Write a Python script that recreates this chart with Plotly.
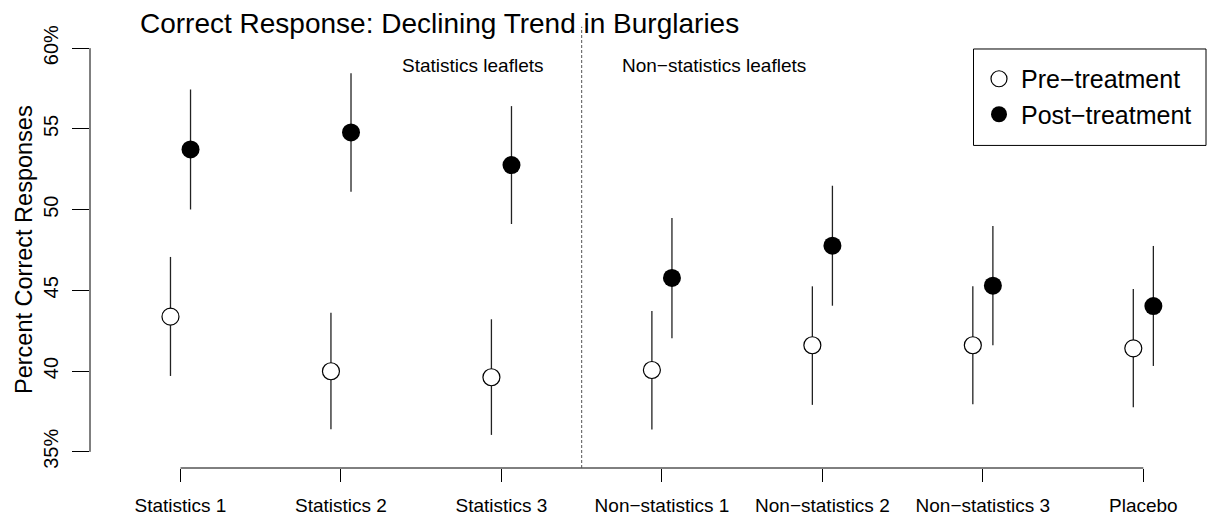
import plotly.graph_objects as go

# Leaflet groups shown along the x axis
groups = ["Statistics 1", "Statistics 2", "Statistics 3",
          "Non\u2212statistics 1", "Non\u2212statistics 2", "Non\u2212statistics 3", "Placebo"]

# Percent correct responses with interval bounds
pre_mean = [43.37, 39.99, 39.62, 40.07, 41.60, 41.60, 41.41]
pre_low = [39.70, 36.40, 36.05, 36.38, 37.91, 37.95, 37.76]
pre_high = [47.07, 43.62, 43.21, 43.73, 45.25, 45.25, 45.09]

post_mean = [53.73, 54.78, 52.76, 45.77, 47.77, 45.29, 44.03]
post_low = [50.01, 51.11, 49.11, 42.03, 44.05, 41.60, 40.32]
post_high = [57.44, 58.45, 56.41, 49.48, 51.48, 48.99, 47.75]

y_ticks = [35, 40, 45, 50, 55, 60]
y_tick_labels = ["35%", "40", "45", "50", "55", "60%"]

FONT = "Liberation Sans, Arial, Helvetica, sans-serif"
DODGE = 0.0625
pos = list(range(1, len(groups) + 1))

# plot area in pixels (used to place paper-referenced items)
L, R, T, B = 90, 1208, 32, 468.3


def px_x(px):
    return (px - L) / (R - L)


def px_y(py):
    return (B - py) / (B - T)


def err(mean, low, high, color):
    return dict(type="data", symmetric=False,
                array=[h - m for m, h in zip(mean, high)],
                arrayminus=[m - l for m, l in zip(mean, low)],
                color=color, thickness=1.3, width=0)


fig = go.Figure()
fig.add_trace(go.Scatter(
    x=[p - DODGE for p in pos], y=pre_mean, mode="markers", name="Pre\u2212treatment",
    marker=dict(symbol="circle", size=17, color="white", line=dict(color="black", width=1.2)),
    error_y=err(pre_mean, pre_low, pre_high, "#222222"),
))
fig.add_trace(go.Scatter(
    x=[p + DODGE for p in pos], y=post_mean, mode="markers", name="Post\u2212treatment",
    marker=dict(symbol="circle", size=18, color="black", line=dict(color="black", width=0)),
    error_y=err(post_mean, post_low, post_high, "#222222"),
))

shapes = [
    # axis lines spanning only the tick range
    dict(type="line", xref="paper", yref="y", x0=0, x1=0, y0=35, y1=60,
         line=dict(color="black", width=1)),
    dict(type="line", xref="x", yref="paper", x0=1, x1=7, y0=0, y1=0,
         line=dict(color="black", width=1)),
    # divider between statistics and non-statistics leaflets
    dict(type="line", xref="x", yref="paper", x0=3.5, x1=3.5, y0=0, y1=1.012,
         line=dict(color="#555555", width=1, dash="3px,2px")),
    # legend frame
    dict(type="rect", xref="paper", yref="paper",
         x0=px_x(973.5), x1=px_x(1206), y0=px_y(145.5), y1=px_y(49),
         line=dict(color="black", width=1), fillcolor="rgba(0,0,0,0)"),
]

annotations = [
    dict(text="Correct Response: Declining Trend in Burglaries", xref="paper", yref="paper",
         x=px_x(138), y=px_y(23), xanchor="left", yanchor="middle", showarrow=False,
         font=dict(family=FONT, size=28, color="black")),
    dict(text="Percent Correct Responses", xref="paper", yref="paper",
         x=px_x(24), y=0.5, xanchor="center", yanchor="middle", textangle=-90, showarrow=False,
         font=dict(family=FONT, size=23.5, color="black")),
    dict(text="Statistics leaflets", xref="x", yref="y", x=3.28, y=58.9,
         xanchor="right", yanchor="middle", showarrow=False,
         font=dict(family=FONT, size=19, color="black")),
    dict(text="Non\u2212statistics leaflets", xref="x", yref="y", x=3.74, y=58.9,
         xanchor="left", yanchor="middle", showarrow=False,
         font=dict(family=FONT, size=19, color="black")),
]

fig.update_layout(
    width=1208, height=518,
    margin=dict(l=L, r=1208 - R, t=T, b=518 - B),
    paper_bgcolor="white", plot_bgcolor="white",
    font=dict(family=FONT, color="black"),
    shapes=shapes, annotations=annotations,
    showlegend=True,
    legend=dict(x=px_x(977), y=px_y(56), xanchor="left", yanchor="top",
                borderwidth=0, bgcolor="rgba(0,0,0,0)",
                font=dict(family=FONT, size=25, color="black"),
                itemwidth=34, itemsizing="trace"),
    xaxis=dict(range=[0.436, 7.403], tickmode="array", tickvals=pos, ticktext=groups,
               showgrid=False, zeroline=False, showline=False,
               ticks="outside", ticklen=13, tickwidth=1, tickcolor="black",
               ticklabelstandoff=7,
               tickfont=dict(family=FONT, size=19, color="black")),
    yaxis=dict(range=[34, 61], tickmode="array", tickvals=y_ticks, ticktext=y_tick_labels,
               showgrid=False, zeroline=False, showline=False,
               ticks="outside", ticklen=17, tickwidth=1, tickcolor="black",
               tickangle=-90, ticklabelstandoff=6,
               tickfont=dict(family=FONT, size=20, color="black")),
)

fig.write_html("out.html")
